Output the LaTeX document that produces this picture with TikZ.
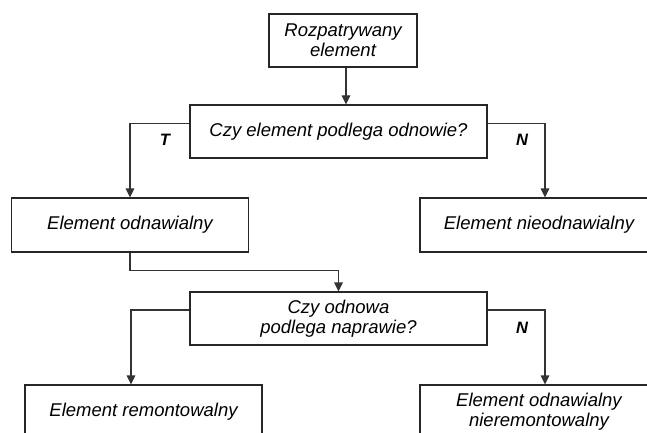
\documentclass[tikz,border=0pt]{standalone}
\usepackage{fontspec}
\setmainfont{Liberation Sans}
\usetikzlibrary{arrows.meta}
\begin{document}
\begin{tikzpicture}[x=1pt,y=-1pt,
  box/.style={draw=black!85, line width=1.1pt, inner sep=0pt, align=center,
    font=\fontsize{18.5}{20}\selectfont\itshape},
  conn/.style={draw=black!80, line width=1.1pt, -{Triangle[length=9pt,width=8.5pt]}},
  lab/.style={font=\fontsize{16.5}{16.5}\selectfont\bfseries\itshape}]
\useasboundingbox (0,0) rectangle (647,433);
\clip (0,0) rectangle (647,433);
\fill[white] (0,0) rectangle (647,433);

\node[box, minimum width=148pt, minimum height=53pt] (top) at (343,40.5) {Rozpatrywany\\element};
\node[box, minimum width=297pt, minimum height=53pt] (d1) at (338.5,131.5) {Czy element podlega odnowie?};
\node[box, minimum width=237pt, minimum height=54pt] (a) at (130,225) {Element odnawialny};
\node[box, minimum width=238pt, minimum height=54pt] (b) at (539,225) {Element nieodnawialny};
\node[box, minimum width=297pt, minimum height=53pt] (d2) at (338.5,318.5) {Czy odnowa\\podlega naprawie?};
\node[box, minimum width=237pt, minimum height=54pt] (c) at (143.5,412) {Element remontowalny};
\node[box, minimum width=238pt, minimum height=54pt] (e) at (539,412) {Element odnawialny\\nieremontowalny};

\draw[conn] ([xshift=3pt]top.south) -- ([xshift=3pt]top.south |- d1.north);
\draw[conn] ([yshift=8pt]d1.west) -| (a.north);
\draw[conn] ([yshift=8pt]d1.east) -| ([xshift=6pt]b.north);
\draw[conn] (a.south) -- ++(0,17.5) -| (d2.north);
\draw[conn] ([yshift=8.5pt]d2.west) -| ([xshift=-12.5pt]c.north);
\draw[conn] ([yshift=8.5pt]d2.east) -| ([xshift=6pt]e.north);

\node[lab] (t1) at (165,140) {T};
\node[lab] (n1) at (522,140) {N};
\node[lab] (n2) at (522,328) {N};
\end{tikzpicture}
\end{document}
